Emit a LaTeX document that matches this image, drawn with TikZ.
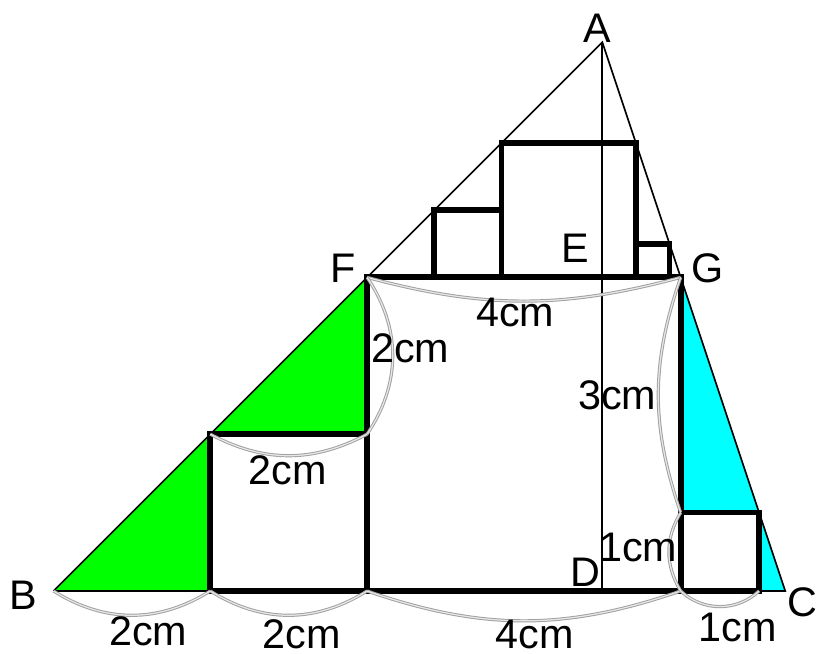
\documentclass[tikz,border=0pt]{standalone}
\usepackage{fontspec}
\setmainfont{Liberation Sans}
\definecolor{figgreen}{RGB}{0,255,0}
\definecolor{figcyan}{RGB}{0,255,255}
\definecolor{arcgray}{RGB}{160,160,160}
\usetikzlibrary{calc}

\begin{document}
\begin{tikzpicture}[
    thinline/.style={draw, line width=0.6pt},
    boldline/.style={draw, line width=2.1pt, line join=miter},
    measure/.style={draw=arcgray, line width=0.35pt, double=arcgray!25, double distance=0.45pt},
    lab/.style={font=\fontsize{15}{18}\selectfont, inner sep=0pt}]

\useasboundingbox (-0.682,-0.791) rectangle (9.726,7.538);

\coordinate (B) at (0,0);
\coordinate (C) at (28/3,0);
\coordinate (A) at (7,7);
\coordinate (D) at (7,0);
\coordinate (E) at (7,4);
\coordinate (F) at (4,4);
\coordinate (G) at (8,4);
\coordinate (s1a) at (2,0);
\coordinate (s1b) at (2,2);
\coordinate (s1c) at (4,2);
\coordinate (s1d) at (4,0);
\coordinate (s2a) at (8,0);
\coordinate (s2b) at (8,1);
\coordinate (s2c) at (9,1);
\coordinate (s2d) at (9,0);

\fill[figgreen] (B) -- (s1a) -- (s1b) -- cycle;
\fill[figgreen] (s1b) -- (s1c) -- (F) -- cycle;
\fill[figcyan] (G) -- (s2b) -- (s2c) -- cycle;
\fill[figcyan] (s2d) -- (s2c) -- (C) -- cycle;

\draw[thinline] (B) -- (A) -- (C) -- (B);
\draw[thinline] (A) -- (D);

\draw[boldline] (s1a) rectangle (s1c);
\draw[boldline] (s1a) -- (s2d);
\draw[boldline] (s1d) -- (F) -- (G) -- (s2a);
\draw[boldline] (s2a) rectangle (s2c);
\draw[boldline] (40/7,4) rectangle (52/7,40/7);
\draw[boldline] (34/7,4) rectangle (40/7,34/7);
\draw[boldline] (52/7,4) rectangle (55/7,31/7);

\draw[measure] (B) to[bend right=32] (s1a);
\draw[measure] (s1a) to[bend right=32] (s1d);
\draw[measure] (s1d) to[bend right=19] (s2a);
\draw[measure] (s2a) to[bend right=43] (s2d);
\draw[measure] (F) to[bend right=15] (G);
\draw[measure] (s1b) to[bend right=28] (s1c);
\draw[measure] (F) to[bend left=34] (s1c);
\draw[measure] (G) to[bend right=19] (s2b);
\draw[measure] (s2b) to[bend right=31] (s2a);

\node[lab] (labA) at (6.93,7.18) {A};
\node[lab] (labB) at (-0.39,-0.05) {B};
\node[lab] (labC) at (9.55,-0.14) {C};
\node[lab] (labD) at (6.78,0.24) {D};
\node[lab] (labE) at (6.65,4.375) {E};
\node[lab] (labF) at (3.69,4.12) {F};
\node[lab] (labG) at (8.34,4.12) {G};

\node[lab] (lenBa) at (1.21,-0.52) {2cm};
\node[lab] (lenBb) at (3.17,-0.55) {2cm};
\node[lab] (lenBc) at (6.14,-0.55) {4cm};
\node[lab] (lenBd) at (8.73,-0.47) {1cm};
\node[lab] (lenSq) at (2.99,1.54) {2cm};
\node[lab] (lenFx) at (4.55,3.10) {2cm};
\node[lab] (lenFG) at (5.89,3.55) {4cm};
\node[lab] (lenGa) at (7.19,2.50) {3cm};
\node[lab] (lenGb) at (7.46,0.55) {1cm};
\end{tikzpicture}
\end{document}
